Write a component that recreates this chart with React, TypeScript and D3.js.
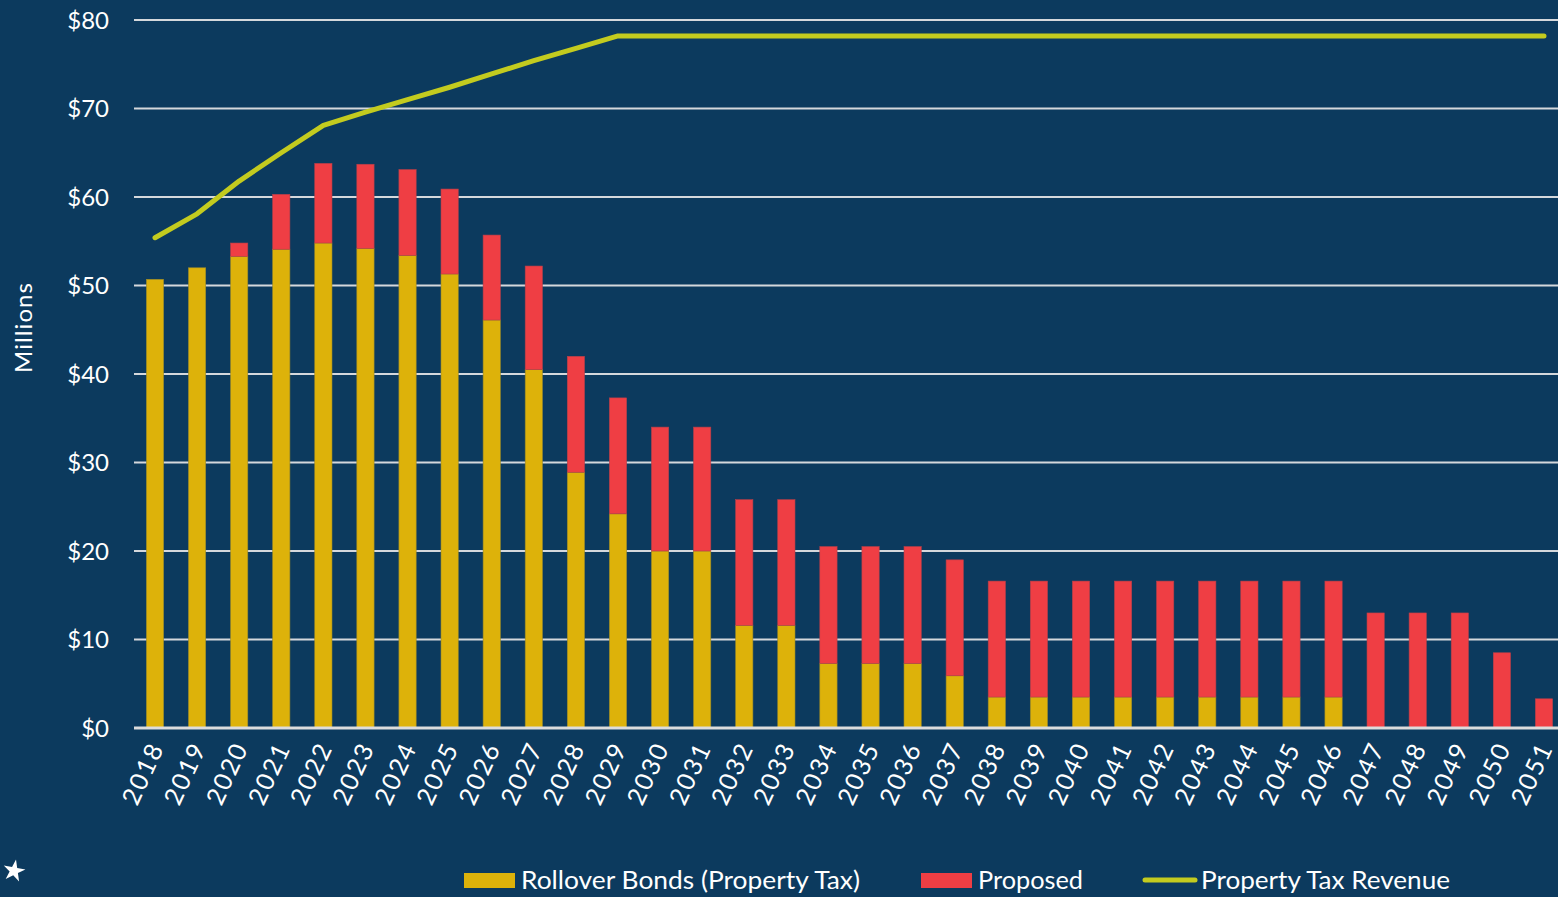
import { useEffect } from 'react';
import * as d3 from 'd3';

const years = [
  '2018', '2019', '2020', '2021', '2022', '2023', '2024', '2025', '2026', '2027',
  '2028', '2029', '2030', '2031', '2032', '2033', '2034', '2035', '2036', '2037',
  '2038', '2039', '2040', '2041', '2042', '2043', '2044', '2045', '2046', '2047',
  '2048', '2049', '2050', '2051',
];

// Rollover Bonds (Property Tax), $M
const rollover = [
  50.7, 52.0, 53.3, 54.1, 54.8, 54.2, 53.4, 51.3, 46.1, 40.5,
  28.9, 24.2, 20.0, 20.0, 11.6, 11.6, 7.3, 7.3, 7.3, 5.9,
  3.5, 3.5, 3.5, 3.5, 3.5, 3.5, 3.5, 3.5, 3.5, 0,
  0, 0, 0, 0,
];

// Proposed, $M
const proposed = [
  0, 0, 1.5, 6.2, 9.0, 9.5, 9.7, 9.6, 9.6, 11.7,
  13.1, 13.1, 14.0, 14.0, 14.2, 14.2, 13.2, 13.2, 13.2, 13.1,
  13.1, 13.1, 13.1, 13.1, 13.1, 13.1, 13.1, 13.1, 13.1, 13.0,
  13.0, 13.0, 8.5, 3.3,
];

// Property Tax Revenue, $M
const revenue = [
  55.4, 58.1, 61.8, 65.0, 68.1, 69.6, 71.0, 72.4, 73.9, 75.4,
  76.8, 78.2, 78.2, 78.2, 78.2, 78.2, 78.2, 78.2, 78.2, 78.2,
  78.2, 78.2, 78.2, 78.2, 78.2, 78.2, 78.2, 78.2, 78.2, 78.2,
  78.2, 78.2, 78.2, 78.2,
];

const yTicks = [0, 10, 20, 30, 40, 50, 60, 70, 80];

const legendItems = ['Rollover Bonds (Property Tax)', 'Proposed', 'Property Tax Revenue'];

const BG = '#0c3a5e';
const GOLD = '#ddb20a';
const RED = '#ef3e44';
const LIME = '#c3cb1f';
const GRID = '#d5d8dc';
const FONT = 'Lato, "Open Sans", sans-serif';

export default function App() {
  useEffect(() => {
    document.body.style.margin = '0';
    document.body.style.background = BG;
  }, []);

  const width = 1558;
  const height = 897;

  const x = d3.scalePoint<string>().domain(years).range([155, 1544]);
  const y = d3.scaleLinear().domain([0, 80]).range([728, 20]);
  const barW = x.step() * 0.41;

  const line = d3.line<number>()
    .x((_, i) => x(years[i]) as number)
    .y(d => y(d));

  return (
    <svg width={width} height={height} style={{ display: 'block', background: BG }}>
      <rect x={0} y={0} width={width} height={height} fill={BG} />

      {/* gridlines + y tick labels */}
      {yTicks.map(t => (
        <g key={t}>
          {t !== 0 && (
            <line x1={134} x2={width} y1={y(t)} y2={y(t)} stroke={GRID} strokeWidth={2} />
          )}
          <text
            x={109}
            y={y(t)}
            dy="0.36em"
            textAnchor="end"
            fill="#ffffff"
            fontFamily={FONT}
            fontSize={24}
          >
            ${t}
          </text>
        </g>
      ))}

      <text
        transform={`translate(32, ${y(40) - 46}) rotate(-90)`}
        textAnchor="middle"
        fill="#ffffff"
        fontFamily={FONT}
        fontSize={24}
        textLength={90}
        lengthAdjust="spacing"
      >
        Millions
      </text>

      {/* stacked bars */}
      {years.map((yr, i) => {
        const cx = x(yr) as number;
        const r = rollover[i];
        const p = proposed[i];
        return (
          <g key={yr}>
            {r > 0 && (
              <rect
                x={cx - barW / 2}
                y={y(r)}
                width={barW}
                height={y(0) - y(r)}
                fill={GOLD}
                stroke="#9c8a2a"
                strokeWidth={0.6}
              />
            )}
            {p > 0 && (
              <rect
                x={cx - barW / 2}
                y={y(r + p)}
                width={barW}
                height={y(r) - y(r + p)}
                fill={RED}
                stroke="#b5404a"
                strokeWidth={0.6}
              />
            )}
          </g>
        );
      })}

      {/* baseline */}
      <line x1={134} x2={width} y1={y(0)} y2={y(0)} stroke="#dcdcdc" strokeWidth={3} />

      {/* revenue line */}
      <path
        d={line(revenue) ?? ''}
        fill="none"
        stroke={LIME}
        strokeWidth={5}
        strokeLinecap="round"
        strokeLinejoin="round"
      />

      {/* x labels */}
      {years.map(yr => (
        <text
          key={yr}
          transform={`translate(${(x(yr) as number) + 9}, 749) rotate(-65)`}
          textAnchor="end"
          fill="#ffffff"
          fontFamily={FONT}
          fontSize={25}
          textLength={64}
          lengthAdjust="spacing"
        >
          {yr}
        </text>
      ))}

      {/* legend */}
      <g fontFamily={FONT} fontSize={25} fill="#ffffff">
        <rect x={464} y={873} width={51} height={15} fill={GOLD} />
        <text x={521} y={889} textLength={339} lengthAdjust="spacingAndGlyphs">{legendItems[0]}</text>
        <rect x={921} y={873} width={51} height={15} fill={RED} />
        <text x={978} y={889} textLength={105} lengthAdjust="spacingAndGlyphs">{legendItems[1]}</text>
        <line x1={1145} x2={1195} y1={880} y2={880} stroke={LIME} strokeWidth={5} strokeLinecap="round" />
        <text x={1201} y={889} textLength={249} lengthAdjust="spacingAndGlyphs">{legendItems[2]}</text>
      </g>

      {/* small star mark */}
      <path
        d={d3.symbol(d3.symbolStar, 150)() ?? ''}
        transform="translate(14, 871) rotate(10)"
        fill="#ffffff"
      />
    </svg>
  );
}
